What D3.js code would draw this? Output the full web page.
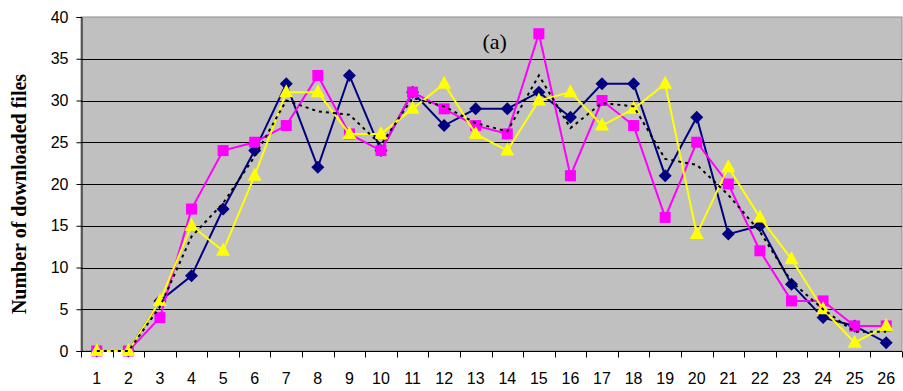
<!DOCTYPE html>
<html>
<head>
<meta charset="utf-8">
<script src="https://cdn.jsdelivr.net/npm/d3@7"></script>
<style>
  body { margin: 0; background: #fff; }
  svg { display: block; }
</style>
</head>
<body>
<svg id="chart"></svg>
<script>
// categories (x axis)
const days = ['1','2','3','4','5','6','7','8','9','10','11','12','13','14','15','16','17','18','19','20','21','22','23','24','25','26'];
// series
const navySeries    = [0, 0, 6, 9, 17, 24, 32, 22, 33, 24, 31, 27, 29, 29, 31, 28, 32, 32, 21, 28, 14, 15, 8, 4, 3, 1];
const magentaSeries = [0, 0, 4, 17, 24, 25, 27, 33, 26, 24, 31, 29, 27, 26, 38, 21, 30, 27, 16, 25, 20, 12, 6, 6, 3, 3];
const yellowSeries  = [0, 0, 6, 15, 12, 21, 31, 31, 26, 26, 29, 32, 26, 24, 30, 31, 27, 29, 32, 14, 22, 16, 11, 5, 1, 3];
const dottedSeries  = [0, 0, 5.3, 13.7, 17.7, 23.3, 30, 28.7, 28.3, 24.7, 30.3, 29.3, 27.3, 26.3, 33, 26.7, 29.7, 29.3, 23, 22.3, 18.7, 14.3, 8.3, 5, 2.3, 2.3];
const yTicks = [0, 5, 10, 15, 20, 25, 30, 35, 40];

const W = 903, H = 391;
const margin = { top: 17, right: 1, bottom: 40, left: 81 };
const width = W - margin.left - margin.right;
const height = H - margin.top - margin.bottom;

const svg = d3.select('#chart').attr('width', W).attr('height', H);
const g = svg.append('g').attr('transform', `translate(${margin.left},${margin.top})`);

const x = d3.scaleBand().domain(days).range([0, width]);
const y = d3.scaleLinear().domain([0, 40]).range([height, 0]);

// plot area
g.append('rect')
  .attr('x', 0).attr('y', 0)
  .attr('width', width).attr('height', height)
  .attr('fill', '#c0c0c0')
  .attr('stroke', '#8c8c8c')
  .attr('stroke-width', 1);

// gridlines
g.append('g')
  .selectAll('line')
  .data(yTicks.filter(d => d > 0 && d < 40))
  .enter().append('line')
  .attr('x1', 0).attr('x2', width)
  .attr('y1', d => Math.round(y(d)) + 0.5)
  .attr('y2', d => Math.round(y(d)) + 0.5)
  .attr('stroke', '#000')
  .attr('stroke-width', 1);

// y axis
const yAxis = g.append('g')
  .attr('transform', 'translate(0.5,0)')
  .call(d3.axisLeft(y).tickValues(yTicks).tickSize(5).tickPadding(8));
yAxis.selectAll('text')
  .attr('font-family', 'Liberation Sans, Arial, sans-serif')
  .attr('font-size', 16)
  .attr('fill', '#000');

// x axis with ticks at category boundaries
const xAxisG = g.append('g').attr('transform', `translate(0,${height + 0.5})`);
xAxisG.append('line')
  .attr('x1', 0).attr('x2', width)
  .attr('stroke', '#000');
xAxisG.selectAll('.xt')
  .data(d3.range(days.length + 1))
  .enter().append('line')
  .attr('x1', i => Math.round(i * x.step()) + 0.5)
  .attr('x2', i => Math.round(i * x.step()) + 0.5)
  .attr('y1', 0).attr('y2', 6)
  .attr('stroke', '#000');
xAxisG.selectAll('.xl')
  .data(days)
  .enter().append('text')
  .attr('x', d => x(d) + x.bandwidth() / 2)
  .attr('y', 32)
  .attr('text-anchor', 'middle')
  .attr('font-family', 'Liberation Sans, Arial, sans-serif')
  .attr('font-size', 16)
  .attr('fill', '#000')
  .text(d => d);

// y axis title
svg.append('text')
  .attr('transform', `translate(26,${margin.top + height / 2 + 10}) rotate(-90)`)
  .attr('text-anchor', 'middle')
  .attr('font-family', 'Liberation Serif, Times New Roman, serif')
  .attr('font-weight', 'bold')
  .attr('font-size', 20)
  .attr('fill', '#000')
  .text('Number of downloaded files');

// panel label
g.append('text')
  .attr('x', x('13') + x.bandwidth() / 2 + 19)
  .attr('y', 32)
  .attr('text-anchor', 'middle')
  .attr('font-family', 'Liberation Serif, Times New Roman, serif')
  .attr('font-size', 22)
  .attr('fill', '#000')
  .text('(a)');

const cx = (d, i) => x(days[i]) + x.bandwidth() / 2;
const line = d3.line().x(cx).y(d => y(d));

// navy diamonds
g.append('path').datum(navySeries)
  .attr('fill', 'none').attr('stroke', '#000080').attr('stroke-width', 2)
  .attr('d', line);
g.selectAll('.dia').data(navySeries).enter().append('path')
  .attr('transform', (d, i) => `translate(${cx(d, i)},${y(d)})`)
  .attr('d', 'M0,-6.5L6.5,0L0,6.5L-6.5,0Z')
  .attr('fill', '#000080');

// magenta squares
g.append('path').datum(magentaSeries)
  .attr('fill', 'none').attr('stroke', '#ff00ff').attr('stroke-width', 2)
  .attr('d', line);
g.selectAll('.sq').data(magentaSeries).enter().append('rect')
  .attr('x', (d, i) => cx(d, i) - 5.5)
  .attr('y', d => y(d) - 5.5)
  .attr('width', 11).attr('height', 11)
  .attr('fill', '#ff00ff');

// yellow triangles
g.append('path').datum(yellowSeries)
  .attr('fill', 'none').attr('stroke', '#ffff00').attr('stroke-width', 2)
  .attr('d', line);
g.selectAll('.tri').data(yellowSeries).enter().append('path')
  .attr('transform', (d, i) => `translate(${cx(d, i)},${y(d)})`)
  .attr('d', 'M0,-8L7,5L-7,5Z')
  .attr('fill', '#ffff00');

// dotted average line
g.append('path').datum(dottedSeries)
  .attr('fill', 'none').attr('stroke', '#000').attr('stroke-width', 2)
  .attr('stroke-dasharray', '3,4')
  .attr('d', line);
</script>
</body>
</html>
